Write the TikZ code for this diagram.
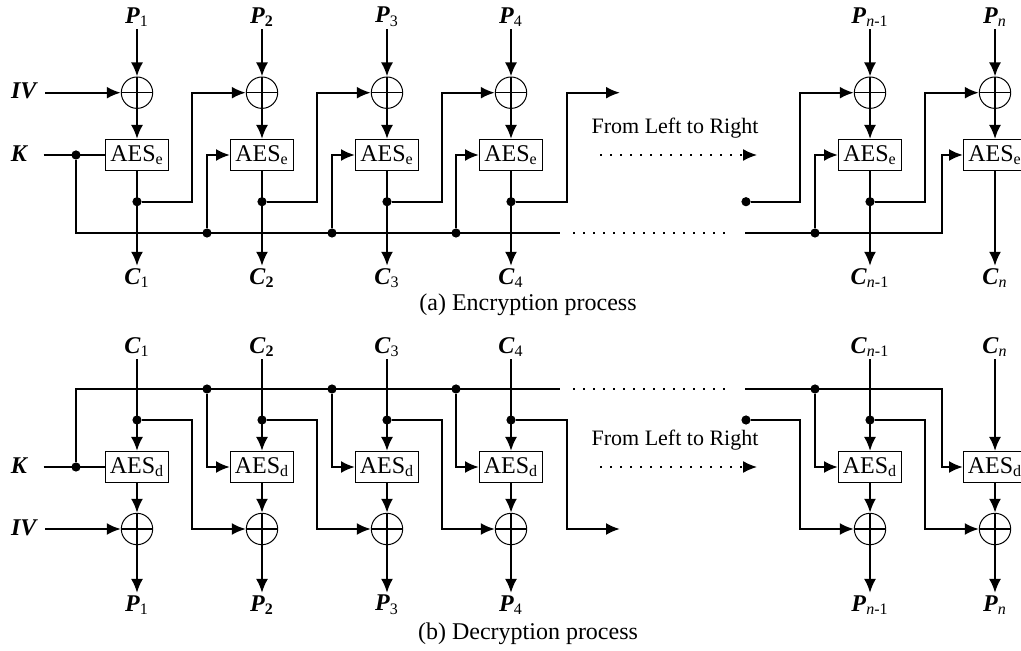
\documentclass[tikz,border=0pt]{standalone}
\usepackage{fontspec}
\setmainfont{Liberation Serif}
\usepackage{tikz}
\usetikzlibrary{arrows.meta,calc}
% column index / x position / subscript
\newcommand{\ColList}{1/137/1,2/262/{\textbf{2}},3/387/3,4/511/4,5/870/{\textit{n}-1},6/995/{\textit{n}}}
\newcommand{\BVar}[2]{\textbf{\textit{#1}}\textsubscript{#2}}
\tikzset{
  wire/.style={line width=1.1pt},
  flowArrow/.style={wire, -{Latex[length=7pt,width=6pt]}},
  aesBox/.style={draw, line width=0.5pt, fill=white, minimum width=31.5pt, minimum height=15.5pt, inner sep=0pt},
  xorNode/.style={circle, draw, line width=0.5pt, minimum size=15.7pt, inner sep=0pt,
    path picture={\draw[line width=0.7pt] (path picture bounding box.north) -- (path picture bounding box.south)
      (path picture bounding box.west) -- (path picture bounding box.east);}},
  joint/.style={circle, fill, inner sep=0pt, minimum size=4.6pt},
  tag/.style={inner sep=1pt},
  gapLine/.style={line width=0.8pt, dash pattern=on 0.8pt off 4.2pt},
  note/.style={font=\fontsize{11}{13}\selectfont}
}

\begin{document}
\begin{tikzpicture}[x=0.5pt, y=-0.5pt, font=\fontsize{12}{14}\selectfont]
  \useasboundingbox (0,0) rectangle (1021,651);
  \clip (0,0) rectangle (1021,651);
  % ---- (a) encryption ----
  \foreach \i/\x/\s in \ColList {
    \node[tag] (ep\i) at (\x,17) {\BVar{P}{\s}};
    \node[xorNode] (ex\i) at (\x,92.7) {};
    \node[aesBox] (ea\i) at (\x,155) {AES\textsubscript{e}};
    \node[tag] (ec\i) at (\x,278) {\BVar{C}{\s}};
    \draw[flowArrow] (ep\i) -- (ex\i);
    \draw[flowArrow] (ex\i) -- (ea\i);
    \draw[flowArrow] (ea\i) -- (ec\i);
  }
  % chaining of the ciphertext into the next xor
  \foreach \i/\x/\j in {1/137/2,2/262/3,3/387/4,5/870/6} {
    \node[joint] (eo\i) at (\x,201.7) {};
    \coordinate (ef\i) at (\x+55,201.7);
    \draw[flowArrow] (eo\i) -- (ef\i) |- (ex\j);
  }
  \node[joint] (eo4) at (511,201.7) {};
  \coordinate (ef4) at (567,201.7);
  \coordinate (eout) at (620,92.7);
  \draw[flowArrow] (eo4) -- (ef4) |- (eout);
  \node[joint] (el) at (746,201.7) {};
  \coordinate (elf) at (800,201.7);
  \draw[flowArrow] (el) -- (elf) |- (ex5);
  % key bus
  \node[tag] (ek) at (20,155) {\BVar{K}{}};
  \node[tag] (eiv) at (25,92.7) {\BVar{IV}{}};
  \draw[flowArrow, shorten <=2pt] (eiv) -- (ex1);
  \node[joint] (ekd) at (76,155) {};
  \draw[wire, shorten <=6pt] (ek) -- (ea1);
  \coordinate (ebe) at (560,233);
  \draw[wire] (ekd) |- (ebe);
  \foreach \i/\x in {2/262,3/387,4/511,5/870} {
    \node[joint] (et\i) at (\x-55,233) {};
    \draw[flowArrow] (et\i) |- (ea\i);
  }
  \coordinate (ebs) at (745,233);
  \coordinate (ebr) at (942,233);
  \draw[flowArrow] (ebs) -- (ebr) |- (ea6);
  % skipped columns
  \coordinate (eg1) at (573,233);
  \coordinate (eg2) at (727,233);
  \draw[gapLine] (eg1) -- (eg2);
  \node[note] (etxt) at (675,128) {From Left to Right};
  \coordinate (ed1) at (600,155);
  \coordinate (ed2) at (757,155);
  \draw[gapLine, -{Latex[length=7pt,width=6pt]}] (ed1) -- (ed2);
  \node (capA) at (528,305) {(a) Encryption process};
  % ---- (b) decryption ----
  \foreach \i/\x/\s in \ColList {
    \node[tag] (dc\i) at (\x,347) {\BVar{C}{\s}};
    \node[aesBox] (da\i) at (\x,467) {AES\textsubscript{d}};
    \node[xorNode] (dx\i) at (\x,529) {};
    \node[tag] (dp\i) at (\x,605) {\BVar{P}{\s}};
    \draw[flowArrow] (dc\i) -- (da\i);
    \draw[flowArrow] (da\i) -- (dx\i);
    \draw[flowArrow] (dx\i) -- (dp\i);
  }
  \foreach \i/\x/\j in {1/137/2,2/262/3,3/387/4,5/870/6} {
    \node[joint] (di\i) at (\x,420) {};
    \coordinate (df\i) at (\x+55,420);
    \draw[flowArrow] (di\i) -- (df\i) |- (dx\j);
  }
  \node[joint] (di4) at (511,420) {};
  \coordinate (df4) at (567,420);
  \coordinate (dout) at (620,529);
  \draw[flowArrow] (di4) -- (df4) |- (dout);
  \node[joint] (dl) at (746,420) {};
  \coordinate (dlf) at (800,420);
  \draw[flowArrow] (dl) -- (dlf) |- (dx5);
  \node[tag] (dk) at (20,467) {\BVar{K}{}};
  \node[tag] (div) at (25,529) {\BVar{IV}{}};
  \draw[flowArrow, shorten <=2pt] (div) -- (dx1);
  \node[joint] (dkd) at (76,467) {};
  \draw[wire, shorten <=6pt] (dk) -- (da1);
  \coordinate (dbe) at (560,389);
  \draw[wire] (dkd) |- (dbe);
  \foreach \i/\x in {2/262,3/387,4/511,5/870} {
    \node[joint] (dt\i) at (\x-55,389) {};
    \draw[flowArrow] (dt\i) |- (da\i);
  }
  \coordinate (dbs) at (745,389);
  \coordinate (dbr) at (942,389);
  \draw[flowArrow] (dbs) -- (dbr) |- (da6);
  \coordinate (dg1) at (573,389);
  \coordinate (dg2) at (727,389);
  \draw[gapLine] (dg1) -- (dg2);
  \node[note] (dtxt) at (675,440) {From Left to Right};
  \coordinate (dd1) at (600,467);
  \coordinate (dd2) at (757,467);
  \draw[gapLine, -{Latex[length=7pt,width=6pt]}] (dd1) -- (dd2);
  \node (capB) at (528,634) {(b) Decryption process};
\end{tikzpicture}
\end{document}
